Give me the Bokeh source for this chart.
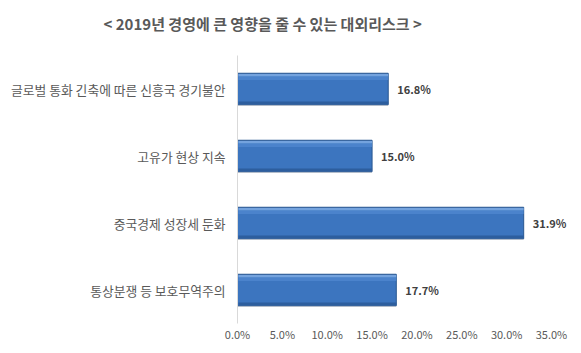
from bokeh.plotting import figure
from bokeh.models import (ColumnDataSource, FactorRange, Range1d, FixedTicker,
                          PrintfTickFormatter, LabelSet)
from bokeh.core.properties import value
from bokeh.transform import dodge
from bokeh.embed import file_html
from bokeh.resources import INLINE

# ---- data (top to bottom as shown) ----
categories = ["글로벌 통화 긴축에 따른 신흥국 경기불안",
              "고유가 현상 지속",
              "중국경제 성장세 둔화",
              "통상분쟁 등 보호무역주의"]
values = [16.8, 15.0, 31.9, 17.7]
value_labels = ["16.8%", "15.0%", "31.9%", "17.7%"]
x_ticks = [0, 5, 10, 15, 20, 25, 30, 35]
title_text = "< 2019년 경영에 큰 영향을 줄 수 있는 대외리스크 >"

FONT = "Noto Sans CJK KR"
W, H = 581, 353
LEFT, TOP, BOTTOM = 237, 55, 30
PX_PER_UNIT = 314 / 35.0
X_END = (W - LEFT) / PX_PER_UNIT

src = ColumnDataSource(dict(cat=categories, val=values, lab=value_labels))

p = figure(width=W, height=H, output_backend="svg", toolbar_location=None,
           y_range=FactorRange(factors=list(reversed(categories))),
           x_range=Range1d(0, X_END),
           min_border_left=LEFT, min_border_right=0,
           min_border_top=TOP, min_border_bottom=BOTTOM)
p.outline_line_color = None
p.background_fill_color = "white"
p.border_fill_color = "white"
p.xgrid.visible = False
p.ygrid.visible = False

BH = 0.47
# shadow
p.hbar(y=dodge("cat", -0.02, range=p.y_range), left=0, right="val", height=BH,
       source=src, fill_color="#9a9a9a", fill_alpha=0.35, line_color=None)
# main bar
p.hbar(y="cat", left=0, right="val", height=BH, source=src,
       fill_color="#3c75bf", line_color="#2a5891", line_width=1)
# top highlight
p.hbar(y=dodge("cat", BH / 2 - 0.03, range=p.y_range), left=0.1, right="val",
       height=0.04, source=src, fill_color="#74a3de", line_color=None)
p.hbar(y=dodge("cat", BH / 2 - 0.075, range=p.y_range), left=0.1, right="val",
       height=0.05, source=src, fill_color="#4f87cf", line_color=None, fill_alpha=0.8)
# bottom shade
p.hbar(y=dodge("cat", -BH / 2 + 0.03, range=p.y_range), left=0.1, right="val",
       height=0.04, source=src, fill_color="#2d5e9e", line_color=None)

# value labels
labels = LabelSet(x="val", y="cat", text="lab", source=src, x_offset=9,
                  text_baseline="middle", text_align="left",
                  text_font=value(FONT), text_font_size=value("11px"),
                  text_font_style=value("bold"), text_color=value("#404040"))
p.add_layout(labels)

# axes
p.xaxis.ticker = FixedTicker(ticks=x_ticks)
p.xaxis.formatter = PrintfTickFormatter(format="%.1f%%")
p.xaxis.axis_line_color = None
p.xaxis.major_tick_line_color = None
p.xaxis.minor_tick_line_color = None
p.xaxis.major_tick_out = 0
p.xaxis.minor_tick_out = 0
p.xaxis.major_label_standoff = 2
p.xaxis.major_label_text_font = FONT
p.xaxis.major_label_text_font_size = "11px"
p.xaxis.major_label_text_color = "#595959"

p.yaxis.axis_line_color = "#d9d9d9"
p.yaxis.major_tick_line_color = None
p.yaxis.minor_tick_line_color = None
p.yaxis.major_tick_out = 0
p.yaxis.minor_tick_out = 0
p.yaxis.major_label_standoff = 12
p.yaxis.major_label_text_font = FONT
p.yaxis.major_label_text_font_size = "12.8px"
p.yaxis.major_label_text_color = "#595959"

# title
p.title.text = title_text
p.title.align = "left"
p.title.offset = 103 - LEFT
p.title.text_font = FONT
p.title.text_font_size = "15px"
p.title.text_font_style = "bold"
p.title.text_color = "#595959"
p.title.standoff = 0
p.title.padding = dict(left=0, right=0, top=0, bottom=22)

open("out.html", "w").write(file_html(p, INLINE))
